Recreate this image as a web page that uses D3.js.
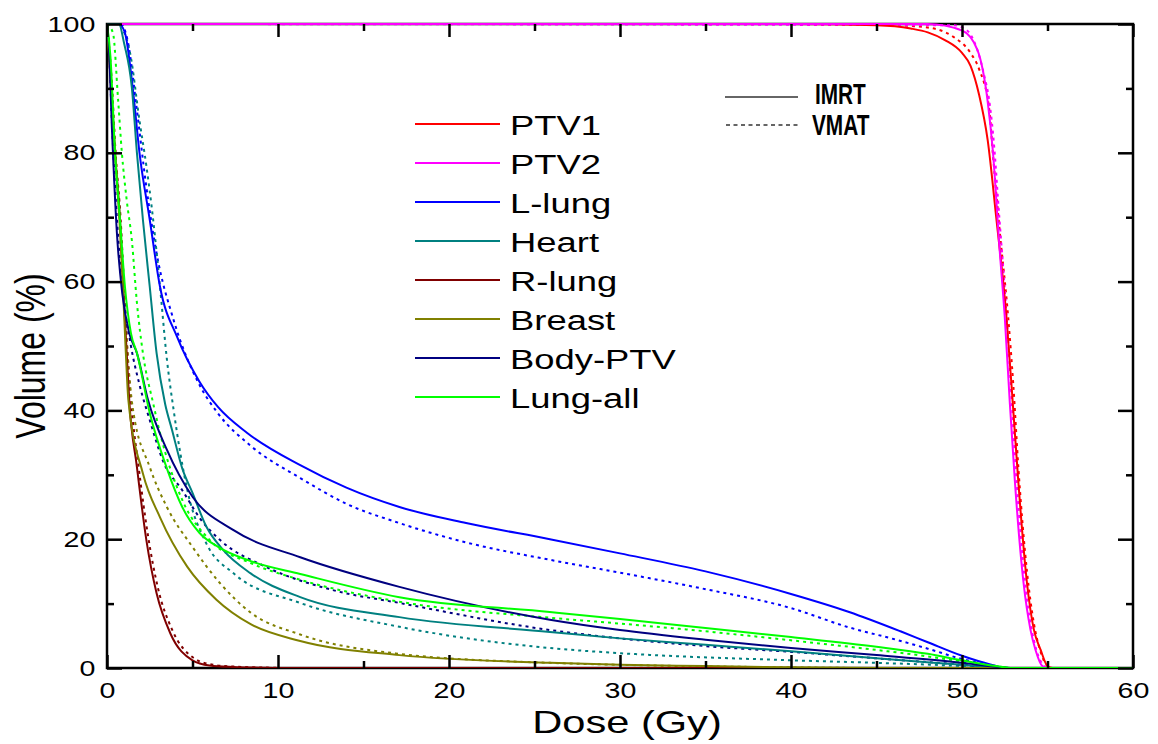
<!DOCTYPE html>
<meta charset="utf-8">
<script src="https://d3js.org/d3.v7.min.js"></script>
<style>
  body { margin: 0; background: #fff; }
  text { font-family: "Liberation Sans", Arial, sans-serif; fill: #000; }
</style>
<div id="my_dataviz"></div>
<script>

  // structures, in legend order
  var names = ["PTV1", "PTV2", "L-lung", "Heart", "R-lung", "Breast", "Body-PTV", "Lung-all"];
  var colors = ["#ff0000", "#ff00ff", "#0000ff", "#008080", "#800000", "#808000", "#000080", "#00ff00"];

  // dose (Gy) / volume (%) pairs, IMRT (solid)
  var imrtDose = [
    [0, 40, 45, 47, 48, 49, 50, 50.5, 51, 51.5, 52, 52.6, 53, 53.3, 53.8, 54.2, 54.6, 55, 55.3, 60],
    [0, 48, 50, 50.9, 51.5, 51.8, 52.2, 52.5, 52.8, 53.1, 53.6, 54, 54.3, 54.7, 55, 60],
    [0, 0.7, 1.05, 1.5, 1.9, 2.5, 3.1, 4.1, 5.4, 6.5, 8.2, 11.3, 14, 17.1, 21, 25.9, 30, 35, 40, 43.4, 46.4, 48, 50, 51.6, 52.7, 60],
    [0, 0.7, 1.0, 1.45, 1.75, 2.1, 2.5, 2.9, 3.4, 3.8, 4.4, 5.0, 5.8, 6.8, 8.4, 11.3, 17.1, 25.9, 30, 35, 40, 45, 50, 52, 53, 60],
    [0, 0.2, 0.47, 0.76, 0.95, 1.15, 1.3, 1.75, 2.3, 2.9, 3.7, 5.0, 6.0, 7.4, 9, 10, 60],
    [0, 0.2, 0.47, 0.76, 0.95, 1.1, 1.25, 2.1, 3.1, 4.7, 6.4, 8.4, 11.3, 17.1, 25.9, 30, 35, 40, 45, 60],
    [0, 0.1, 0.3, 0.58, 0.9, 1.3, 1.75, 2.4, 3.5, 5.0, 7.4, 11.3, 17.1, 25.9, 30, 35, 40, 45, 50, 52, 53, 60],
    [0, 0.2, 0.47, 0.76, 1.05, 1.4, 1.75, 2.5, 3.5, 4.4, 5.4, 6.5, 8.4, 11.3, 17.1, 25.9, 30, 35, 40, 45, 48, 50, 52, 53, 60]
  ];
  var imrtVol = [
    [100, 100, 99.8, 99.3, 98.7, 97.5, 95.5, 93.5, 89, 82, 70, 54.5, 40, 28.7, 13.2, 6, 2.8, 0.3, 0, 0],
    [100, 100, 99, 96, 88, 80.4, 65, 54.5, 41, 28.7, 13.2, 6, 2.8, 0.3, 0, 0],
    [100, 100, 98.6, 90.2, 80, 69.6, 59.2, 51.4, 44.5, 40.5, 36.5, 31.5, 28, 25, 22.5, 20, 17.8, 15, 11.5, 8.7, 5.7, 4, 1.9, 0.6, 0, 0],
    [100, 100, 97, 90.2, 80, 69.6, 59.2, 48.9, 41, 37, 31, 27.2, 22, 18.3, 14.7, 11, 7.9, 5.6, 4.6, 3.6, 2.6, 1.5, 0.5, 0.1, 0, 0],
    [100, 92, 80, 69.6, 59.2, 49, 41.6, 31.2, 19.9, 11.6, 5.4, 1.2, 0.4, 0.15, 0.05, 0, 0],
    [100, 92, 80, 68, 58, 49, 41.6, 30.2, 23.4, 15.7, 10.6, 6.8, 4.2, 2.0, 0.8, 0.5, 0.3, 0.1, 0, 0],
    [100, 97, 83, 67.5, 58, 52, 48.9, 41.6, 33.9, 26.6, 21.4, 17.2, 12.6, 7.5, 5.9, 4.4, 3.1, 2, 0.8, 0.2, 0, 0],
    [100, 95, 80, 69.6, 59.2, 52, 48.9, 39.6, 31, 25, 21, 18.8, 16.6, 14.6, 11, 8.7, 7.6, 6.2, 4.8, 3.3, 2.2, 1.2, 0.3, 0, 0]
  ];

  // VMAT (dashed)
  var vmatDose = [
    [0, 44, 47, 48.5, 49.5, 50.5, 51, 51.6, 51.8, 52.2, 52.7, 53, 53.3, 53.8, 54.2, 54.6, 55, 55.3, 60],
    [0, 49.5, 50.3, 50.8, 51.3, 51.6, 51.9, 52.1, 52.6, 53.2, 53.7, 54.35, 54.8, 55, 60],
    [0, 0.8, 1.2, 1.75, 2.3, 2.9, 3.9, 5.4, 6.5, 8.4, 11.3, 14, 17.1, 21, 25.9, 30, 34.7, 40, 43.4, 46, 48, 50, 52, 53, 60],
    [0, 0.6, 0.95, 1.35, 1.9, 2.3, 2.7, 3.1, 3.5, 3.9, 4.7, 5.8, 7.4, 11.3, 17.1, 25.9, 30, 40, 45, 50, 52, 60],
    [0, 0.25, 0.5, 0.8, 1.0, 1.2, 1.4, 1.85, 2.4, 3.0, 3.8, 5.1, 6.2, 7.6, 9.5, 10.5, 60],
    [0, 0.25, 0.5, 0.8, 1.0, 1.2, 1.5, 2.5, 3.5, 5.0, 6.6, 8.4, 11.3, 17.1, 25.9, 30, 40, 45, 60],
    [0, 0.1, 0.3, 0.6, 0.95, 1.4, 1.9, 2.5, 3.3, 4.4, 5.5, 6.6, 9.3, 13.2, 17.1, 25.9, 30, 35, 40, 45, 50, 52, 60],
    [0, 0.35, 0.65, 0.87, 1.15, 1.45, 1.75, 2.1, 2.7, 3.1, 4.4, 6.0, 8.4, 11.3, 17.1, 25.9, 30, 35, 40, 45, 48, 50, 52, 53, 60]
  ];
  var vmatVol = [
    [100, 100, 99.7, 99.2, 98, 95.5, 93, 86.6, 80, 68, 54.5, 44, 31, 15, 7, 2.5, 0.3, 0, 0],
    [100, 99.8, 99, 96.7, 92, 88, 80.4, 73, 55, 28.7, 13, 2.8, 0.3, 0, 0],
    [100, 100, 97.5, 86.6, 74.7, 64.4, 54, 44, 39.5, 34.5, 29.5, 25.5, 22.5, 19.5, 16.8, 14.8, 12.4, 9.3, 6.3, 4.5, 3, 1.4, 0.3, 0, 0],
    [100, 100, 99, 95.5, 85, 78, 69.6, 59.2, 48, 40, 27.6, 19.4, 14.7, 10.1, 6.4, 3.1, 2.3, 1.2, 0.8, 0.3, 0, 0],
    [100, 92, 80, 69.6, 59.2, 49, 41.6, 31.2, 20.5, 12.2, 6, 1.5, 0.5, 0.2, 0.05, 0, 0],
    [100, 92, 80, 68, 58, 49, 40.5, 31.2, 25, 18.8, 13.2, 8.6, 5.2, 2.2, 0.8, 0.5, 0.1, 0, 0],
    [100, 97, 84, 69, 58, 50, 44, 38.5, 32, 27.6, 23, 19.9, 15.7, 12.1, 10.1, 5.9, 4.6, 3.4, 2.5, 1.5, 0.5, 0, 0],
    [100, 98.6, 88.2, 80, 72.7, 66.5, 56.7, 48.9, 41.1, 36.5, 26.1, 19.9, 16.3, 13.7, 10.3, 7.8, 6.9, 5.7, 4.3, 2.8, 1.8, 1.0, 0.2, 0, 0]
  ];

  var xTicks = [0, 10, 20, 30, 40, 50, 60];
  var yTicks = [0, 20, 40, 60, 80, 100];
  var plans = ["IMRT", "VMAT"];

  // the figure is stretched sideways, so is the text
  var stretch = 1.3;

  var margin = { top: 24, right: 25, bottom: 76, left: 107 },
    width = 1158 - margin.left - margin.right,
    height = 744 - margin.top - margin.bottom;

  var svg = d3.select("#my_dataviz")
    .append("svg")
    .attr("width", 1158)
    .attr("height", 744)
    .append("g")
    .attr("transform", "translate(" + margin.left + "," + margin.top + ")");

  var x = d3.scaleLinear().domain([0, 60]).range([0, width]);
  var y = d3.scaleLinear().domain([0, 100]).range([height, 0]);

  var line = d3.line()
    .x(function (d) { return x(d[0]); })
    .y(function (d) { return y(d[1]); })
    .curve(d3.curveMonotoneX);

  svg.append("clipPath").attr("id", "clip")
    .append("rect").attr("x", 0).attr("y", -1).attr("width", width).attr("height", height + 1);

  // frame first, the 100 % plateaus run over its top edge
  svg.append("rect")
    .attr("width", width).attr("height", height)
    .attr("fill", "none").attr("stroke", "#000").attr("stroke-width", 2.5);

  // curves: dashed first, solid on top
  [[vmatDose, vmatVol, "3,4"], [imrtDose, imrtVol, null]].forEach(function (p) {
    names.forEach(function (n, i) {
      var pts = d3.zip(p[0][i], p[1][i]);
      svg.append("path")
        .datum(pts)
        .attr("clip-path", "url(#clip)")
        .attr("fill", "none")
        .attr("stroke", colors[i])
        .attr("stroke-width", 2)
        .attr("stroke-dasharray", p[2])
        .attr("d", line);
    });
  });

  // axes: minor and major ticks, all pointing in, mirrored on top/right
  function style(g) {
    g.select(".domain").remove();
    g.selectAll("line").attr("stroke", "#000").attr("stroke-width", 2.5);
  }
  var minorX = d3.range(5, 60, 10), minorY = d3.range(10, 100, 20);

  svg.append("g").attr("transform", "translate(0," + height + ")")
    .call(d3.axisBottom(x).tickValues(minorX).tickSize(-7).tickFormat("")).call(style);
  svg.append("g").call(d3.axisTop(x).tickValues(minorX).tickSize(-7).tickFormat("")).call(style);
  svg.append("g").call(d3.axisLeft(y).tickValues(minorY).tickSize(-7).tickFormat("")).call(style);
  svg.append("g").attr("transform", "translate(" + width + ",0)")
    .call(d3.axisRight(y).tickValues(minorY).tickSize(-7).tickFormat("")).call(style);

  var xAxis = svg.append("g").attr("transform", "translate(0," + height + ")")
    .call(d3.axisBottom(x).tickValues(xTicks).tickSize(-13).tickPadding(14)).call(style);
  svg.append("g").call(d3.axisTop(x).tickValues(xTicks).tickSize(-13).tickFormat("")).call(style);
  var yAxis = svg.append("g")
    .call(d3.axisLeft(y).tickValues(yTicks).tickSize(-15).tickPadding(9)).call(style);
  svg.append("g").attr("transform", "translate(" + width + ",0)")
    .call(d3.axisRight(y).tickValues(yTicks).tickSize(-15).tickFormat("")).call(style);

  [xAxis, yAxis].forEach(function (a) {
    a.selectAll("text")
      .style("font-family", "'Liberation Sans', Arial, sans-serif")
      .style("font-size", "22px")
      .attr("fill", "#000")
      .attr("transform", "scale(" + stretch + ",1)");
  });

  // axis titles
  svg.append("g").attr("transform", "translate(" + (x(30) + 7) + "," + (height + 65) + ")")
    .append("text")
    .attr("text-anchor", "middle")
    .attr("transform", "scale(" + stretch + ",1)")
    .style("font-size", "32px")
    .text("Dose (Gy)");

  svg.append("g").attr("transform", "translate(" + (30 - margin.left) + "," + (356 - margin.top) + ") rotate(-90)")
    .append("text")
    .attr("text-anchor", "middle")
    .attr("dy", "0.36em")
    .attr("transform", "scale(1," + stretch + ")")
    .style("font-size", "32px")
    .text("Volume (%)");

  // structure legend
  var legend = svg.append("g").attr("transform", "translate(" + (415 - margin.left) + "," + (124 - margin.top) + ")");
  names.forEach(function (n, i) {
    var row = legend.append("g").attr("transform", "translate(0," + (i * 39) + ")");
    row.append("line").attr("x1", 0).attr("x2", 85)
      .attr("stroke", colors[i]).attr("stroke-width", 2);
    row.append("g").attr("transform", "translate(95,11)")
      .append("text")
      .attr("transform", "scale(" + stretch + ",1)")
      .style("font-size", "28px")
      .text(n);
  });

  // plan legend
  var plan = svg.append("g").attr("transform", "translate(" + (725 - margin.left) + "," + (97 - margin.top) + ")");
  plans.forEach(function (p, i) {
    var row = plan.append("g").attr("transform", "translate(0," + (i * 28) + ")");
    row.append("line").attr("x1", i).attr("x2", 73 + i)
      .attr("stroke", "#333").attr("stroke-width", 1.5)
      .attr("stroke-dasharray", i ? "4,3.5" : null);
    row.append("g").attr("transform", "translate(" + (90 - i * 3) + "," + (7 + i * 3) + ")")
      .append("text")
      .attr("transform", "scale(0.8,1.1)")
      .style("font-size", "26px")
      .style("font-weight", "bold")
      .text(p);
  });

</script>
